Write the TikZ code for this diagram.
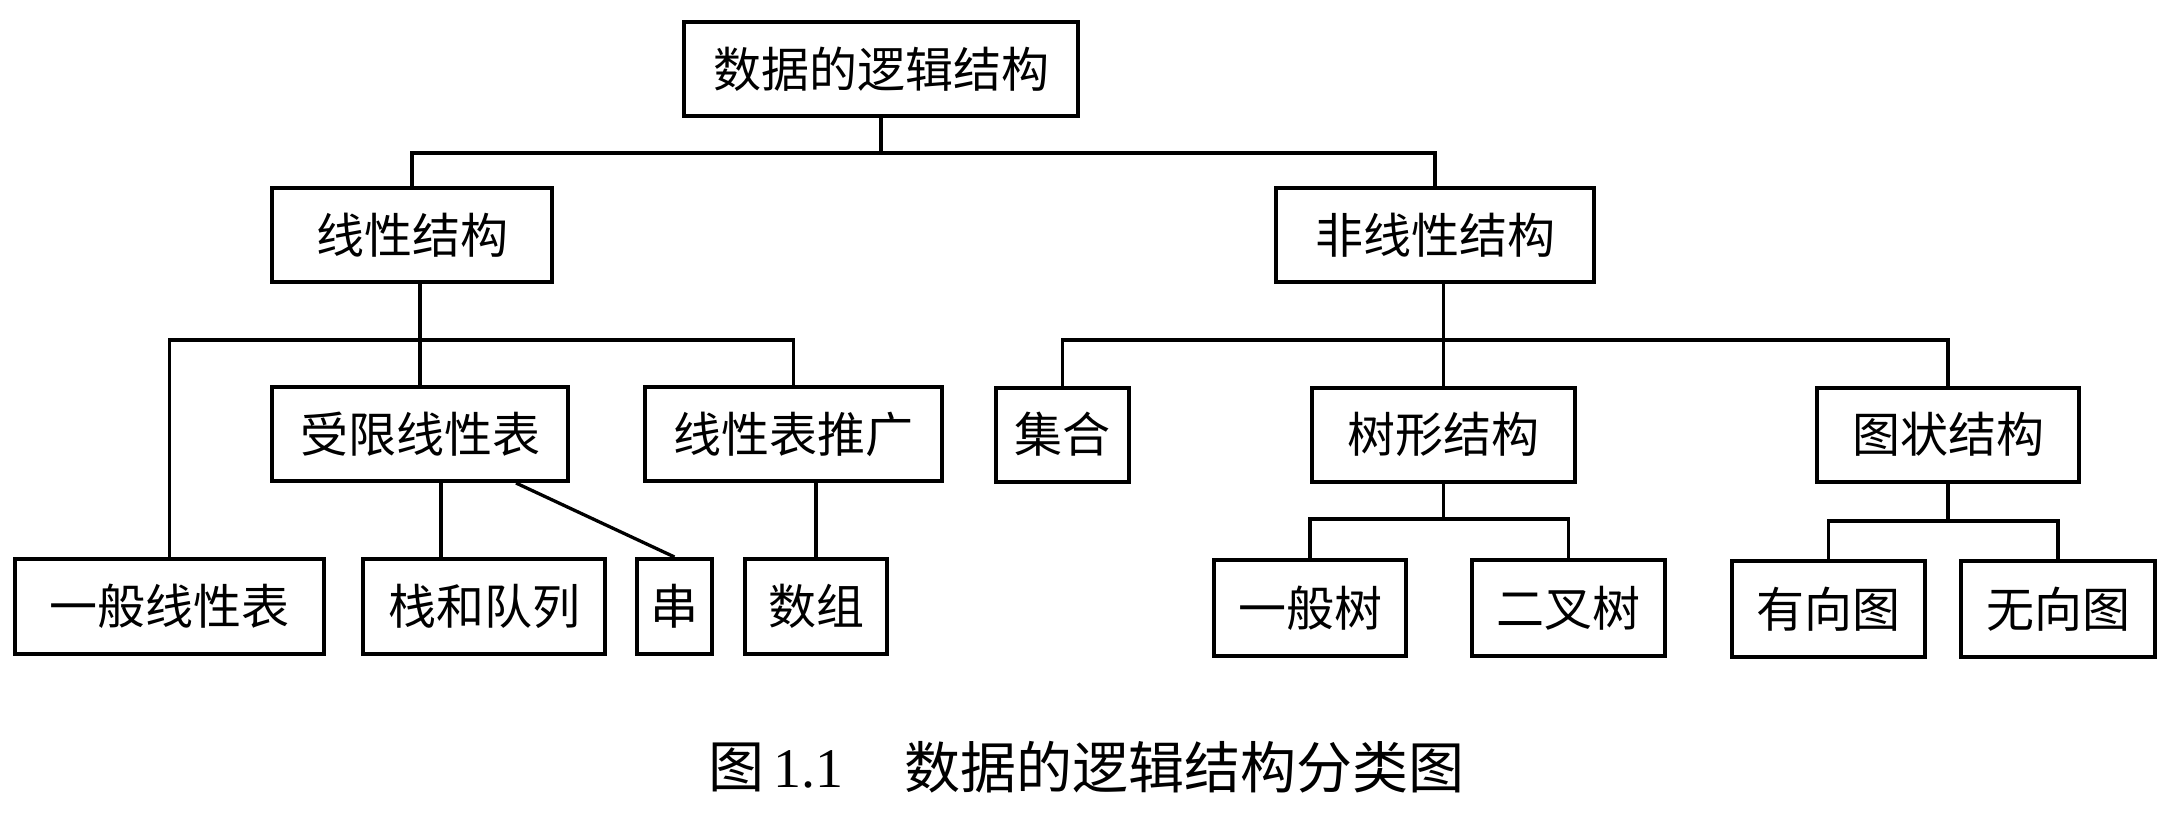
\documentclass[tikz,border=0pt]{standalone}
\usepackage{fontspec}
\setmainfont{Liberation Serif}
\newfontfamily\cjk{Noto Sans CJK SC}
\begin{document}
\begin{tikzpicture}[x=1pt,y=-1pt,
  box/.style={draw,line width=4pt,inner sep=0pt,minimum height=94pt,
    font=\cjk\fontsize{48}{48}\selectfont},
  conn/.style={line width=3.3pt}]
\useasboundingbox[fill=white] (0,0) rectangle (2175,827);
% level 0
\node[box,minimum width=394pt] (top) at (881,69) {数据的逻辑结构};
% level 1
\node[box,minimum width=280pt] (lin) at (412,235) {线性结构};
\node[box,minimum width=318pt] (nonlin) at (1435,235) {非线性结构};
% level 2
\node[box,minimum width=296pt] (lim) at (420,434) {受限线性表};
\node[box,minimum width=297pt] (ext) at (793.5,434) {线性表推广};
\node[box,minimum width=133pt] (set) at (1062.5,434.5) {集合};
\node[box,minimum width=263pt] (tree) at (1443.5,434.5) {树形结构};
\node[box,minimum width=262pt] (graph) at (1948,434.5) {图状结构};
% level 3
\node[box,minimum width=309pt,minimum height=95pt] (gen) at (169.5,606.5) {一般线性表};
\node[box,minimum width=242pt,minimum height=95pt] (stack) at (484,606.5) {栈和队列};
\node[box,minimum width=75pt,minimum height=95pt] (str) at (674.5,606.5) {串};
\node[box,minimum width=142pt,minimum height=95pt] (arr) at (816,606.5) {数组};
\node[box,minimum width=192pt,minimum height=96pt] (gt) at (1310,608) {一般树};
\node[box,minimum width=193pt,minimum height=96pt] (bt) at (1568.5,608) {二叉树};
\node[box,minimum width=193pt,minimum height=96pt] (dg) at (1828.5,609) {有向图};
\node[box,minimum width=194pt,minimum height=96pt] (ug) at (2058,609) {无向图};
% bus levels
\coordinate (b1) at (0,153);
\coordinate (b2) at (0,340);
\coordinate (b4) at (0,519);
\coordinate (b5) at (0,521);
\coordinate (sq) at (441,0);
\coordinate (dgs) at (516,0);
% connectors
\draw[conn] (top.south) -- (b1 -| top.south);
\draw[conn] (lin.north) |- (b1 -| nonlin.north) -- (nonlin.north);
\draw[conn] (lim.north |- lin.south) -- (lim.north);
\draw[conn] (gen.north) |- (b2 -| ext.north) -- (ext.north);
\draw[conn] (sq |- lim.south) -- (sq |- stack.north);
\draw[conn] (dgs |- lim.south) -- (str.north);
\draw[conn] (arr.north |- ext.south) -- (arr.north);
\draw[conn] (tree.north |- nonlin.south) -- (tree.north);
\draw[conn] (set.north) |- (b2 -| graph.north) -- (graph.north);
\draw[conn] (tree.south) -- (b4 -| tree.south);
\draw[conn] (gt.north) |- (b4 -| bt.north) -- (bt.north);
\draw[conn] (graph.south) -- (b5 -| graph.south);
\draw[conn] (dg.north) |- (b5 -| ug.north) -- (ug.north);
% caption
\node[anchor=west,inner sep=0pt,font=\fontsize{56}{56}\selectfont] (cap1) at (708,767) {{\cjk 图}\,1.1};
\node[anchor=west,inner sep=0pt,font=\cjk\fontsize{56}{56}\selectfont] (cap2) at (904,767) {数据的逻辑结构分类图};
\end{tikzpicture}
\end{document}
